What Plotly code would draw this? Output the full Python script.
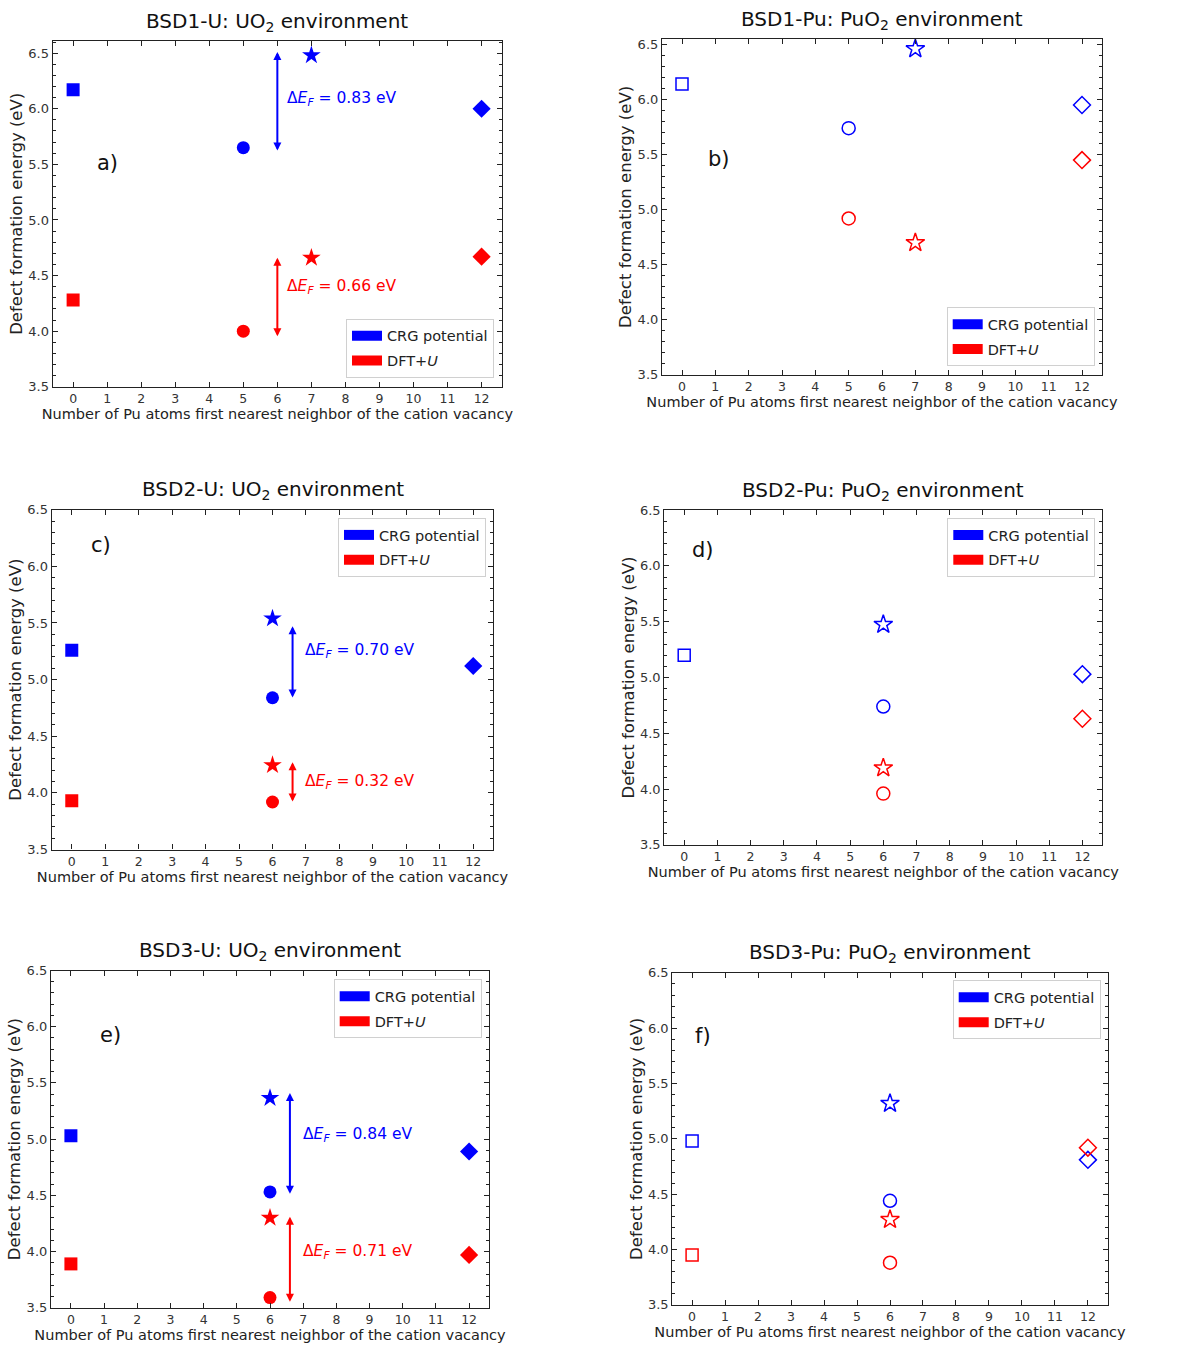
import plotly.graph_objects as go

W, H = 1195, 1355
FONT = "DejaVu Sans"
BLUE = "#0000ff"
RED = "#ff0000"

# ---------------- data ----------------
titles = ["BSD1-U: UO<sub>2</sub> environment", "BSD1-Pu: PuO<sub>2</sub> environment",
          "BSD2-U: UO<sub>2</sub> environment", "BSD2-Pu: PuO<sub>2</sub> environment",
          "BSD3-U: UO<sub>2</sub> environment", "BSD3-Pu: PuO<sub>2</sub> environment"]
panel_labels = ["a)", "b)", "c)", "d)", "e)", "f)"]
series_names = ["CRG potential", "DFT+<i>U</i>"]
shapes_order = ["square", "circle", "star", "diamond"]

x_a = [0, 5, 7, 12]
crg_a = [6.17, 5.65, 6.48, 6.00]
dft_a = [4.28, 4.00, 4.66, 4.67]

x_b = [0, 5, 7, 12]
crg_b = [6.14, 5.74, 6.46, 5.95]
dft_b = [None, 4.92, 4.70, 5.45]

x_c = [0, 6, 6, 12]
crg_c = [5.26, 4.84, 5.54, 5.12]
dft_c = [3.93, 3.92, 4.245, None]

x_d = [0, 6, 6, 12]
crg_d = [5.20, 4.74, 5.475, 5.03]
dft_d = [None, 3.96, 4.19, 4.63]

x_e = [0, 6, 6, 12]
crg_e = [5.03, 4.53, 5.365, 4.89]
dft_e = [3.89, 3.59, 4.30, 3.97]

x_f = [0, 6, 6, 12]
crg_f = [4.98, 4.44, 5.32, 4.81]
dft_f = [3.95, 3.88, 4.27, 4.92]

# double arrows with their ΔE_F labels
arrows_x = [6, 6, 6.6, 6.6, 6.6, 6.6]
arrows_lo = [5.61, 3.94, 4.83, 3.91, 4.50, 3.54]
arrows_hi = [6.51, 4.66, 5.47, 4.27, 5.41, 4.31]
arrows_panel = [0, 0, 2, 2, 4, 4]
arrows_series = [0, 1, 0, 1, 0, 1]
delta_labels = ["0.83", "0.66", "0.70", "0.32", "0.84", "0.71"]
delta_lx = [6.22, 6.22, 6.92, 6.92, 6.92, 6.92]
delta_ly = [6.09, 4.40, 5.25, 4.10, 5.04, 4.00]

label_x = [1.0, 1.1, 0.87, 0.58, 1.18, 0.33]
label_y = [5.51, 5.46, 6.19, 6.14, 5.93, 5.93]

x_ticks = list(range(0, 13))
y_ticks = [3.5, 4.0, 4.5, 5.0, 5.5, 6.0, 6.5]
y_ranges = [[3.5, 6.61], [3.5, 6.55], [3.5, 6.5], [3.5, 6.5], [3.5, 6.5], [3.5, 6.5]]
x_range = [-0.6, 12.6]

xs = [x_a, x_b, x_c, x_d, x_e, x_f]
crgs = [crg_a, crg_b, crg_c, crg_d, crg_e, crg_f]
dfts = [dft_a, dft_b, dft_c, dft_d, dft_e, dft_f]

# ---------------- layout geometry (pixels) ----------------
boxes = [(52.7, 502, 34.3, 384), (662, 1102, 32.3, 372),
         (51.7, 493.3, 508.3, 852), (664.3, 1102.3, 508.7, 847.3),
         (51, 489, 974.3, 1315.3), (672.3, 1107.7, 976.7, 1312.3)]
title_y = [15, 13, 488, 489, 955, 957]
legend_pos = [(494, 375, "right", "bottom"), (1094.7, 363.3, "right", "bottom"),
              (486, 516.7, "right", "top"), (1095.3, 516.7, "right", "top"),
              (481.7, 983.3, "right", "top"), (1100.7, 984.3, "right", "top")]


def px(v):
    return v / W


def py(v):
    return 1 - v / H


fig = go.Figure()
layout = dict(width=W, height=H, margin=dict(l=0, r=0, t=0, b=0),
              paper_bgcolor="white", plot_bgcolor="white",
              font=dict(family=FONT, color="#222"), showlegend=True)
annotations = []

sizes_filled = {"square": 13, "circle": 13, "star": 14, "diamond": 14}
sizes_open = {"square": 12, "circle": 13, "star": 14, "diamond": 13}

for i in range(6):
    k = "" if i == 0 else str(i + 1)
    xa, ya = "x" + k, "y" + k
    x0, x1, y0, y1 = boxes[i]
    filled = (i % 2 == 0)
    common_axis = dict(showline=True, linecolor="#222", linewidth=1.2, mirror="ticks",
                       ticks="inside", ticklen=5, tickcolor="#222", tickwidth=1,
                       showgrid=False, zeroline=False)
    layout["xaxis" + k] = dict(common_axis, domain=[px(x0), px(x1)], anchor=ya,
                               range=x_range, tickmode="array", tickvals=x_ticks,
                               tickfont=dict(family=FONT, size=12.5, color="#333"),
                               title=dict(text="Number of Pu atoms first nearest neighbor of the cation vacancy",
                                          font=dict(family=FONT, size=14.5, color="#222"), standoff=3))
    layout["yaxis" + k] = dict(common_axis, domain=[py(y1), py(y0)], anchor=xa,
                               range=y_ranges[i], tickmode="array", tickvals=y_ticks,
                               tickformat=".1f",
                               tickfont=dict(family=FONT, size=13, color="#333"),
                               minor=dict(ticks="inside", dtick=0.1, ticklen=3, tickcolor="#222"),
                               title=dict(text="Defect formation energy (eV)",
                                          font=dict(family=FONT, size=16.5, color="#222"), standoff=1))
    leg = "legend" if i == 0 else "legend" + str(i + 1)
    lx, ly, xan, yan = legend_pos[i]
    layout[leg] = dict(x=px(lx), y=py(ly), xanchor=xan, yanchor=yan, xref="paper", yref="paper",
                       bgcolor="white", bordercolor="#d0d0d0", borderwidth=1,
                       font=dict(family=FONT, size=14.5, color="#222"), itemwidth=30,
                       tracegroupgap=3)

    for s, (vals, col) in enumerate([(crgs[i], BLUE), (dfts[i], RED)]):
        if filled:
            syms = shapes_order
            sz = [sizes_filled[t] for t in shapes_order]
        else:
            syms = [t + "-open" for t in shapes_order]
            sz = [sizes_open[t] for t in shapes_order]
        fig.add_trace(go.Scatter(x=xs[i], y=vals, mode="markers", xaxis=xa, yaxis=ya,
                                 showlegend=False,
                                 marker=dict(symbol=syms, size=sz, color=col, opacity=1,
                                             line=dict(color=col, width=1.5 if not filled else 0))))
        fig.add_trace(go.Scatter(x=[None], y=[None], mode="lines", xaxis=xa, yaxis=ya,
                                 name=series_names[s], legend=leg,
                                 legendgroup="g%d_%d" % (i, s),
                                 line=dict(color=col, width=12)))

    annotations.append(dict(text=titles[i], xref="paper", yref="paper",
                            x=px((x0 + x1) / 2), y=py(title_y[i]), xanchor="center", yanchor="middle",
                            showarrow=False, font=dict(family=FONT, size=20, color="#111")))
    annotations.append(dict(text=panel_labels[i], xref=xa, yref=ya, x=label_x[i], y=label_y[i],
                            xanchor="center", yanchor="middle", showarrow=False,
                            font=dict(family=FONT, size=21, color="#111")))

for j in range(len(arrows_x)):
    i = arrows_panel[j]
    k = "" if i == 0 else str(i + 1)
    xa, ya = "x" + k, "y" + k
    col = BLUE if arrows_series[j] == 0 else RED
    annotations.append(dict(x=arrows_x[j], y=arrows_hi[j], ax=arrows_x[j], ay=arrows_lo[j],
                            xref=xa, yref=ya, axref=xa, ayref=ya, text="", showarrow=True,
                            arrowside="end+start", arrowhead=2, arrowsize=0.8, arrowwidth=2,
                            arrowcolor=col, standoff=0, startstandoff=0))
    annotations.append(dict(x=delta_lx[j], y=delta_ly[j], xref=xa, yref=ya,
                            text="Δ<i>E</i><sub><i>F</i></sub> = " + delta_labels[j] + " eV",
                            xanchor="left", yanchor="middle", showarrow=False,
                            font=dict(family=FONT, size=15.5, color=col)))

layout["annotations"] = annotations
fig.update_layout(**layout)
fig.write_html("out.html")
